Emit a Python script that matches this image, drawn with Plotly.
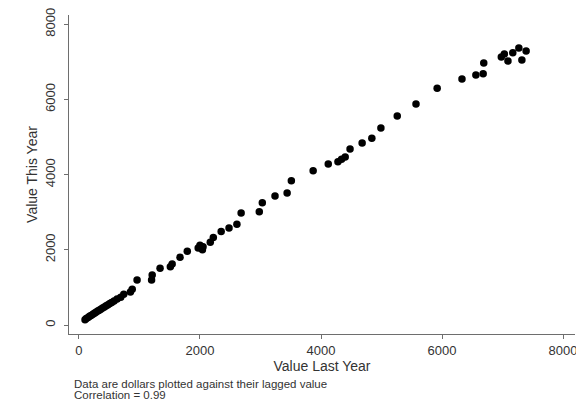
import plotly.graph_objects as go

value_last_year = [
    100, 120, 150, 175, 200, 230, 255, 280, 310, 335, 360, 390, 420, 450, 480, 510, 540, 580,
    630, 690, 740, 850, 880, 960, 1200, 1210, 1340, 1510, 1540,
    1670, 1790, 1970, 2000, 2040, 2050, 2170, 2220, 2350, 2480, 2610, 2680, 2980, 3030, 3240,
    3440, 3510, 3870, 4120, 4280, 4340, 4400, 4480, 4680, 4840, 4990, 5260, 5570, 5920, 6330,
    6560, 6680, 6690, 6980, 7030, 7090, 7170, 7270, 7390, 7320,
]
value_this_year = [
    140, 170, 200, 230, 255, 285, 310, 340, 370, 395, 420, 450, 480, 510, 540, 570, 600, 640,
    690, 740, 820, 880, 950, 1200, 1200, 1330, 1510, 1550, 1620,
    1800, 1960, 2050, 2120, 2000, 2080, 2200, 2330, 2490, 2580, 2680, 2980, 3010, 3250, 3430,
    3510, 3840, 4100, 4280, 4340, 4410, 4470, 4680, 4840, 4970, 5240, 5560, 5880, 6300, 6540,
    6650, 6680, 6970, 7130, 7210, 7020, 7240, 7370, 7290, 7050,
]
tick_vals = [0, 2000, 4000, 6000, 8000]
tick_text = ["0", "2000", "4000", "6000", "8000"]
x_title = "Value Last Year"
y_title = "Value This Year"
note_lines = ["Data are dollars plotted against their lagged value", "Correlation = 0.99"]

FONT = "Liberation Sans, Arial, sans-serif"
AXIS_COLOR = "#6e6e6e"
TEXT_COLOR = "#333333"

fig = go.Figure()
fig.add_trace(go.Scatter(
    x=value_last_year, y=value_this_year, mode="markers",
    marker=dict(color="black", size=7.5, line=dict(width=0)),
    showlegend=False, hoverinfo="skip",
))

fig.update_layout(
    width=576, height=402,
    margin=dict(l=69, r=1, t=15, b=68, autoexpand=False),
    paper_bgcolor="white", plot_bgcolor="white",
    font=dict(family=FONT, color=TEXT_COLOR),
)
fig.update_xaxes(
    range=[-165, 8198], tickvals=tick_vals, ticktext=tick_text,
    showline=True, linecolor=AXIS_COLOR, linewidth=1,
    ticks="outside", ticklen=4, tickcolor=AXIS_COLOR,
    showgrid=False, zeroline=False, ticklabeloverflow="allow",
    tickfont=dict(size=13, color=TEXT_COLOR),
    title=dict(text=x_title, font=dict(size=14, color=TEXT_COLOR), standoff=2),
    automargin=False,
)
fig.update_yaxes(
    range=[-239, 8245], tickvals=tick_vals, ticktext=tick_text,
    showline=True, linecolor=AXIS_COLOR, linewidth=1,
    ticks="outside", ticklen=4, tickcolor=AXIS_COLOR, tickangle=-90,
    showgrid=False, zeroline=False, ticklabeloverflow="allow",
    ticklabelstandoff=4,
    tickfont=dict(size=13, color=TEXT_COLOR),
    title=dict(text=y_title, font=dict(size=14, color=TEXT_COLOR), standoff=1),
    automargin=False,
)

for i, line in enumerate(note_lines):
    fig.add_annotation(
        text=line, xref="paper", yref="paper",
        x=3 / 506, y=-(50 + 10.5 * i) / 319,
        xanchor="left", yanchor="middle", showarrow=False,
        font=dict(size=11.5, family=FONT, color=TEXT_COLOR),
    )

fig.write_html(
    "out.html",
    config={"displayModeBar": False},
    post_script="document.body.style.margin='0';document.body.style.overflow='hidden';",
)
